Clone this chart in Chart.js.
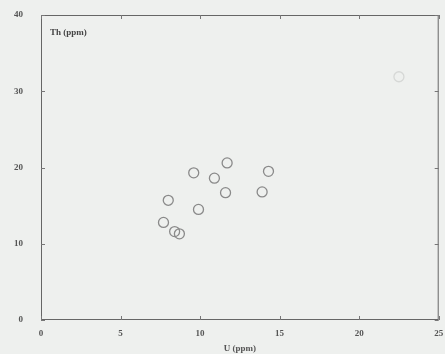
<!DOCTYPE html>
<html>
<head>
<meta charset="utf-8">
<script src="https://cdn.jsdelivr.net/npm/chart.js@4/dist/chart.umd.min.js"></script>
<style>
  html, body { margin: 0; padding: 0; background: #eef0ee; }
  #wrap { position: relative; width: 445px; height: 354px; }
  #yTitle { position: absolute; left: 50px; top: 27px; font: bold 9px "Liberation Serif", serif; color: #444; }
</style>
</head>
<body>
<div id="wrap">
  <canvas id="scatterChart" width="445" height="354"></canvas>
  <div id="yTitle">Th (ppm)</div>
</div>
<script>
// U (ppm) vs Th (ppm) samples
const uValues = [7.7, 8.0, 8.4, 8.7, 9.6, 9.9, 10.9, 11.6, 11.7, 13.9, 14.3];
const thValues = [12.8, 15.7, 11.6, 11.3, 19.3, 14.5, 18.6, 16.7, 20.6, 16.8, 19.5];
const faintU = [22.5];
const faintTh = [31.9];
const xTicks = [0, 5, 10, 15, 20, 25];
const yTicks = [0, 10, 20, 30, 40];

const toPoints = (xs, ys) => xs.map((x, i) => ({ x: x, y: ys[i] }));

// draws the plot frame and inward tick marks
const framePlugin = {
    id: 'frame',
    afterDraw(chart) {
        const { ctx, chartArea: a, scales } = chart;
        ctx.save();
        ctx.strokeStyle = '#666';
        ctx.lineWidth = 1;
        ctx.strokeRect(a.left + 0.5, a.top + 0.5, a.right - a.left - 1, a.bottom - a.top - 1);
        ctx.strokeStyle = '#777';
        xTicks.forEach(v => {
            const px = Math.round(scales.x.getPixelForValue(v)) + 0.5;
            ctx.beginPath();
            ctx.moveTo(px, a.bottom); ctx.lineTo(px, a.bottom - 4);
            ctx.moveTo(px, a.top); ctx.lineTo(px, a.top + 4);
            ctx.stroke();
        });
        yTicks.forEach(v => {
            const py = Math.round(scales.y.getPixelForValue(v)) + 0.5;
            ctx.beginPath();
            ctx.moveTo(a.left, py); ctx.lineTo(a.left + 4, py);
            ctx.moveTo(a.right, py); ctx.lineTo(a.right - 4, py);
            ctx.stroke();
        });
        ctx.restore();
    }
};

const tickFont = { family: '"Liberation Serif", serif', size: 9, weight: 'bold' };

new Chart(document.getElementById('scatterChart').getContext('2d'), {
    type: 'scatter',
    data: {
        datasets: [{
            data: toPoints(uValues, thValues),
            pointStyle: 'circle',
            pointRadius: 5,
            borderColor: '#8a8a8a',
            borderWidth: 1.3,
            backgroundColor: 'rgba(0,0,0,0)'
        }, {
            data: toPoints(faintU, faintTh),
            pointStyle: 'circle',
            pointRadius: 5,
            borderColor: '#d6d8d6',
            borderWidth: 1.3,
            backgroundColor: 'rgba(0,0,0,0)'
        }]
    },
    options: {
        responsive: false,
        animation: false,
        layout: { padding: { top: 15, right: -3, left: 0, bottom: 0 } },
        plugins: { legend: { display: false }, tooltip: { enabled: false } },
        scales: {
            x: {
                type: 'linear', min: 0, max: 25,
                afterBuildTicks: s => { s.ticks = xTicks.map(v => ({ value: v })); },
                afterFit: s => { s.height = 34; s.paddingLeft = 0; s.paddingRight = 0; },
                grid: { display: false, drawTicks: false },
                border: { display: false },
                ticks: { color: '#555', font: tickFont, padding: 8 },
                title: { display: true, text: 'U (ppm)', color: '#555', font: tickFont, padding: { top: -2, bottom: 0 } }
            },
            y: {
                type: 'linear', min: 0, max: 40,
                afterBuildTicks: s => { s.ticks = yTicks.map(v => ({ value: v })); },
                afterFit: s => { s.width = 41; s.paddingTop = 0; s.paddingBottom = 0; },
                grid: { display: false, drawTicks: false },
                border: { display: false },
                ticks: { color: '#555', font: tickFont, padding: 18 }
            }
        }
    },
    plugins: [framePlugin]
});
</script>
</body>
</html>
